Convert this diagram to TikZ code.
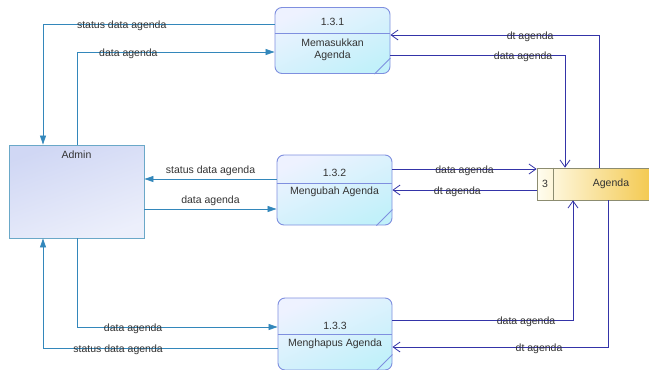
\documentclass[tikz,border=0pt]{standalone}
\usepackage{fontspec}
\setmainfont{Liberation Sans}
\usetikzlibrary{arrows.meta}

\definecolor{procline}{HTML}{7F8FDF}
\definecolor{proctop}{HTML}{EEF2FF}
\definecolor{procbot}{HTML}{C2F1FA}
\definecolor{extline}{HTML}{6AA8C8}
\definecolor{exttop}{HTML}{D0D7F4}
\definecolor{extbot}{HTML}{ECEFFB}
\definecolor{storeline}{HTML}{8C8C70}
\definecolor{storeleft}{HTML}{FFFDF0}
\definecolor{storeright}{HTML}{F2C23A}
\definecolor{lflowcol}{HTML}{3387BB}
\definecolor{rflowcol}{HTML}{3434A8}
\definecolor{txtcol}{HTML}{333333}

\begin{document}
\begin{tikzpicture}[x=1pt,y=-1pt,
  font=\fontsize{10.5}{12}\selectfont, text=txtcol,
  proc/.style={draw=procline,line width=.9pt,rounded corners=7pt,
    top color=proctop,bottom color=procbot,shading angle=25},
  ext/.style={draw=extline,line width=.9pt,
    top color=exttop,bottom color=extbot,shading angle=20},
  store/.style={draw=storeline,line width=.7pt,
    left color=storeleft,right color=storeright},
  lflow/.style={draw=lflowcol,line width=.8pt,-{Triangle[length=9pt,width=6pt]}},
  rflow/.style={draw=rflowcol,line width=.8pt,-{Straight Barb[length=7pt,width=10pt]}},
  lbl/.style={inner sep=1pt,yshift=-2pt}]
\useasboundingbox (0,0) rectangle (649,370);
\clip (0,0) rectangle (649,370);

% external entity
\node (admin) at (76.5,191.5) [ext,minimum width=135pt,minimum height=93pt,
  label={[anchor=north,inner sep=6pt]north:Admin}] {};

% processes
\node (p1) at (332.5,40.5) [proc,minimum width=115pt,minimum height=66pt] {};
\node (n1) at (332.5,22) {1.3.1};
\node (t1) at (332.5,50) [align=center] {Memasukkan\\Agenda};
\draw[procline,line width=.9pt] (p1.west |- 0,33) -- (p1.east |- 0,33);
\draw[procline,line width=.9pt] ([xshift=-16pt]p1.south east) -- ([yshift=16pt]p1.south east);

\node (p2) at (334.5,190) [proc,minimum width=115pt,minimum height=70pt] {};
\node (n2) at (334.5,173) {1.3.2};
\node (t2) at (334.5,192) {Mengubah Agenda};
\draw[procline,line width=.9pt] (p2.west |- 0,183) -- (p2.east |- 0,183);
\draw[procline,line width=.9pt] ([xshift=-16pt]p2.south east) -- ([yshift=16pt]p2.south east);

\node (p3) at (335,334) [proc,minimum width=114pt,minimum height=72pt] {};
\node (n3) at (335,326) {1.3.3};
\node (t3) at (335,344) {Menghapus Agenda};
\draw[procline,line width=.9pt] (p3.west |- 0,334) -- (p3.east |- 0,334);
\draw[procline,line width=.9pt] ([xshift=-16pt]p3.south east) -- ([yshift=16pt]p3.south east);

% data store
\node (st) at (602,184) [store,minimum width=130pt,minimum height=32pt] {};
\draw[storeline,line width=.7pt] (553,0 |- st.north) -- (553,0 |- st.south);
\node (sn) at (545,184) {3};
\node (sa) at (611,184) {Agenda};

% flows admin <-> processes
\draw[lflow] (p1.west |- 0,24) -| node[lbl,pos=.33] {status data agenda} (admin.north -| 43,0);
\draw[lflow] (admin.north -| 77,0) |- node[lbl,pos=.63] {data agenda} (p1.west |- 0,52);
\draw[lflow] (p2.west |- 0,179) -- node[above,pos=.5] {status data agenda} (admin.east |- 0,179);
\draw[lflow] (admin.east |- 0,209) -- node[above,pos=.5] {data agenda} (p2.west |- 0,209);
\draw[lflow] (admin.south -| 77,0) |- node[lbl,pos=.64] {data agenda} (p3.west |- 0,327);
\draw[lflow] (p3.west |- 0,348) -| node[lbl,pos=.34] {status data agenda} (admin.south -| 43,0);

% flows processes <-> store
\draw[rflow] (st.north -| 599,0) |- node[lbl,pos=.665] {dt agenda} (p1.east |- 0,35);
\draw[rflow] (p1.east |- 0,55) -| node[lbl,pos=.38] {data agenda} (st.north -| 565,0);
\draw[rflow] (p2.east |- 0,169) -- node[lbl,pos=.5] {data agenda} (st.west |- 0,169);
\draw[rflow] (st.west |- 0,190) -- node[lbl,pos=.55] {dt agenda} (p2.east |- 0,190);
\draw[rflow] (p3.east |- 0,320) -| node[lbl,pos=.37] {data agenda} (st.south -| 573,0);
\draw[rflow] (st.south -| 608,0) |- node[lbl,pos=.66] {dt agenda} (p3.east |- 0,347);
\end{tikzpicture}
\end{document}
